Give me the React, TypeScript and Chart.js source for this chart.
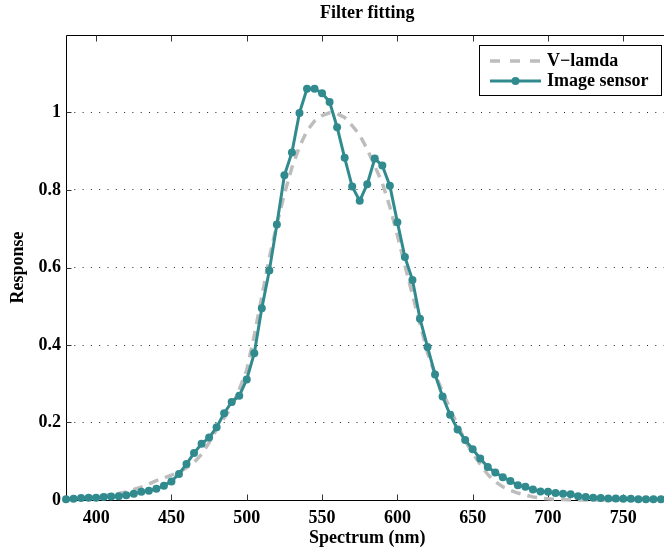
import React, { useEffect, useRef } from "react";
import { Chart, registerables } from "chart.js";

Chart.register(...registerables);

// ---- data ----
const wavelengths = [
  380, 385, 390, 395, 400, 405, 410, 415, 420, 425, 430, 435, 440, 445, 450, 455,
  460, 465, 470, 475, 480, 485, 490, 495, 500, 505, 510, 515, 520, 525, 530, 535,
  540, 545, 550, 555, 560, 565, 570, 575, 580, 585, 590, 595, 600, 605, 610, 615,
  620, 625, 630, 635, 640, 645, 650, 655, 660, 665, 670, 675, 680, 685, 690, 695,
  700, 705, 710, 715, 720, 725, 730, 735, 740, 745, 750, 755, 760, 765, 770, 775, 780,
];

const vLambda = [
  0.003, 0.004, 0.005, 0.007, 0.009, 0.011, 0.014, 0.017, 0.021, 0.027, 0.033, 0.041, 0.05, 0.057, 0.064, 0.072,
  0.083, 0.097, 0.118, 0.148, 0.183, 0.212, 0.241, 0.285, 0.335, 0.425, 0.525, 0.625, 0.712, 0.79, 0.858, 0.912,
  0.953, 0.978, 0.992, 0.999, 0.997, 0.987, 0.966, 0.942, 0.905, 0.862, 0.818, 0.757, 0.683, 0.605, 0.53, 0.455,
  0.38, 0.325, 0.279, 0.235, 0.193, 0.153, 0.12, 0.092, 0.066, 0.047, 0.034, 0.025, 0.018, 0.013, 0.008, 0.005,
  0.003, 0.002, 0.001, 0, 0, 0, 0, 0, 0, 0, 0, 0, 0, 0, 0, 0, 0,
];

const imageSensor = [
  0.002, 0.003, 0.005, 0.006, 0.006, 0.008, 0.009, 0.01, 0.012, 0.016, 0.021, 0.024, 0.029, 0.037, 0.048, 0.067,
  0.093, 0.121, 0.145, 0.161, 0.188, 0.224, 0.253, 0.269, 0.311, 0.379, 0.495, 0.592, 0.711, 0.838, 0.897, 0.999,
  1.061, 1.061, 1.05, 1.027, 0.962, 0.883, 0.809, 0.772, 0.815, 0.881, 0.863, 0.811, 0.717, 0.627, 0.568, 0.468,
  0.395, 0.324, 0.267, 0.22, 0.182, 0.155, 0.131, 0.107, 0.085, 0.071, 0.059, 0.049, 0.038, 0.034, 0.027, 0.022,
  0.021, 0.018, 0.016, 0.015, 0.01, 0.008, 0.006, 0.005, 0.004, 0.004, 0.003, 0.003, 0.002, 0.002, 0.002, 0.002, 0.002,
];

const xTicks = [400, 450, 500, 550, 600, 650, 700, 750];
const yTicks = [0, 0.2, 0.4, 0.6, 0.8, 1];
const seriesNames = ["V\u2212lamda", "Image sensor"];
const titleText = "Filter fitting";
const xTitle = "Spectrum (nm)";
const yTitle = "Response";

// ---- style ----
const FONT = "'Liberation Serif', 'Times New Roman', Times, serif";
const TEAL = "#318b8e";
const GRAY = "#bdbdbd";
const W = 680;
const H = 552;

const framePlugin = {
  id: "frame",
  beforeDatasetsDraw(chart: any) {
    const { ctx, chartArea: a, scales } = chart;
    ctx.save();
    ctx.strokeStyle = "#000";
    ctx.lineWidth = 1;
    ctx.setLineDash([]);
    const L = Math.round(a.left) + 0.5;
    const T = Math.round(a.top) + 0.5;
    const B = Math.round(a.bottom) + 0.5;
    const R = Math.round(a.right) + 0.5;
    ctx.beginPath();
    ctx.moveTo(L, T);
    ctx.lineTo(R, T);
    ctx.lineTo(R, B);
    ctx.lineTo(L, B);
    ctx.closePath();
    ctx.stroke();
    ctx.strokeStyle = "#333";
    ctx.beginPath();
    for (const v of xTicks) {
      const px = Math.round(scales.x.getPixelForValue(v)) + 0.5;
      ctx.moveTo(px, B);
      ctx.lineTo(px, B - 6);
      ctx.moveTo(px, T);
      ctx.lineTo(px, T + 6);
    }
    for (const v of yTicks) {
      const py = Math.round(scales.y.getPixelForValue(v)) + 0.5;
      ctx.moveTo(L, py);
      ctx.lineTo(L + 5, py);
      ctx.moveTo(R, py);
      ctx.lineTo(R - 5, py);
    }
    ctx.stroke();
    ctx.restore();
  },
  afterDatasetsDraw(chart: any) {
    const { ctx } = chart;
    ctx.save();
    const bx = 479.5, by = 45.5, bw = 182, bh = 50;
    ctx.fillStyle = "#fff";
    ctx.fillRect(bx, by, bw, bh);
    ctx.strokeStyle = "#000";
    ctx.lineWidth = 1;
    ctx.setLineDash([]);
    ctx.strokeRect(bx, by, bw, bh);

    const r1 = 61, r2 = 81;
    ctx.strokeStyle = GRAY;
    ctx.lineWidth = 3.5;
    ctx.setLineDash([10, 10]);
    ctx.beginPath();
    ctx.moveTo(490, r1);
    ctx.lineTo(541, r1);
    ctx.stroke();
    ctx.setLineDash([]);
    ctx.strokeStyle = TEAL;
    ctx.lineWidth = 3;
    ctx.beginPath();
    ctx.moveTo(490, r2);
    ctx.lineTo(541, r2);
    ctx.stroke();
    ctx.fillStyle = TEAL;
    ctx.beginPath();
    ctx.arc(515.5, r2, 4, 0, Math.PI * 2);
    ctx.fill();

    ctx.fillStyle = "#000";
    ctx.font = `bold 18px ${FONT}`;
    ctx.textBaseline = "middle";
    ctx.textAlign = "left";
    ctx.fillText(seriesNames[0], 547, r1);
    ctx.fillText(seriesNames[1], 547, r2);
    ctx.restore();
  },
};

export default function App() {
  const ref = useRef<HTMLCanvasElement | null>(null);

  useEffect(() => {
    if (!ref.current) return;
    const tickFont = { family: FONT, size: 18, weight: "bold" as const };
    const chart = new Chart(ref.current, {
      type: "line",
      data: {
        datasets: [
          {
            label: seriesNames[0],
            data: wavelengths.map((w, i) => ({ x: w, y: vLambda[i] })),
            borderColor: GRAY,
            borderWidth: 3.5,
            borderDash: [10, 7],
            pointRadius: 0,
            tension: 0,
            order: 2,
            clip: false as any,
          },
          {
            label: seriesNames[1],
            data: wavelengths.map((w, i) => ({ x: w, y: imageSensor[i] })),
            borderColor: TEAL,
            backgroundColor: TEAL,
            borderWidth: 3,
            pointRadius: 4,
            pointBorderWidth: 0,
            pointBackgroundColor: TEAL,
            tension: 0,
            order: 1,
            clip: false as any,
          },
        ],
      },
      options: {
        animation: false,
        responsive: false,
        devicePixelRatio: 1,
        events: [],
        layout: { padding: { left: 0, top: 0, right: W - 668.5, bottom: 0 } },
        plugins: {
          legend: { display: false },
          tooltip: { enabled: false },
          title: {
            display: true,
            text: titleText,
            color: "#000",
            fullSize: false,
            font: { family: FONT, size: 18, weight: "bold" },
            padding: { top: 3, bottom: 10.4 },
          },
        },
        scales: {
          x: {
            type: "linear",
            min: 380,
            max: 780,
            afterBuildTicks: (s: any) => {
              s.ticks = xTicks.map((v) => ({ value: v }));
            },
            afterFit: (s: any) => {
              s.height = 52;
            },
            grid: { display: false, drawTicks: false },
            border: { display: false },
            ticks: {
              color: "#000",
              font: tickFont,
              padding: 8,
              autoSkip: false,
              maxRotation: 0,
              callback: (v: any) => String(v),
            },
            title: {
              display: true,
              text: xTitle,
              color: "#000",
              font: { family: FONT, size: 18, weight: "bold" },
              padding: { top: 0, bottom: 3 },
            },
          },
          y: {
            type: "linear",
            min: 0,
            max: 1.2,
            afterBuildTicks: (s: any) => {
              s.ticks = yTicks.map((v) => ({ value: v }));
            },
            afterFit: (s: any) => {
              s.width = 66;
            },
            grid: {
              display: true,
              drawTicks: false,
              color: (c: any) => (c.tick && c.tick.value === 0 ? "rgba(0,0,0,0)" : "#222"),
              lineWidth: 1,
            },
            border: { display: false, dash: [1, 7.3] },
            ticks: {
              color: "#000",
              font: tickFont,
              padding: 5,
              callback: (v: any) => String(Math.round(Number(v) * 10) / 10),
            },
            title: {
              display: true,
              text: yTitle,
              color: "#000",
              font: { family: FONT, size: 18, weight: "bold" },
              padding: { top: 8, bottom: 0 },
            },
          },
        },
      },
      plugins: [framePlugin],
    });
    return () => chart.destroy();
  }, []);

  return (
    <div
      style={{
        position: "fixed",
        left: 0,
        top: 0,
        width: 664,
        height: 552,
        overflow: "hidden",
        background: "#fff",
      }}
    >
      <canvas ref={ref} width={W} height={H} style={{ display: "block", width: W, height: H }} />
    </div>
  );
}
